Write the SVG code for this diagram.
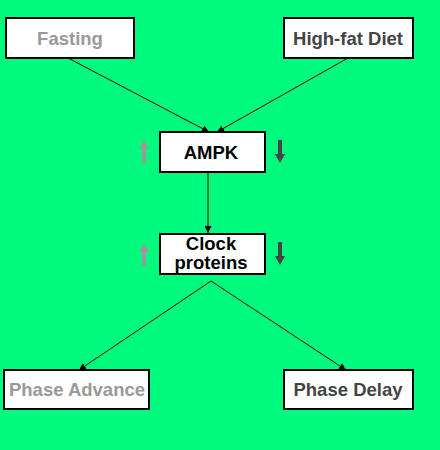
<svg xmlns="http://www.w3.org/2000/svg" width="440" height="450" viewBox="0 0 440 450">
<defs>
<marker id="ah" viewBox="0 0 10 10" refX="10" refY="5" markerWidth="7" markerHeight="7" orient="auto" markerUnits="userSpaceOnUse">
<path d="M0,0 L10,5 L0,10 z" fill="#000"/>
</marker>
<style>
.box{fill:#fff;stroke:#000;stroke-width:2}
.t{font-family:"Liberation Sans",Arial,sans-serif;font-weight:bold;font-size:18.5px;text-anchor:middle}
.edge{stroke:#3a0000;stroke-width:1;fill:none;marker-end:url(#ah)}
.up{fill:#999}
.down{fill:#444}
</style>
</defs>
<rect width="440" height="450" fill="#00fa7e"/>
<g id="connectors">
<line class="edge" x1="68" y1="58" x2="209" y2="132"/>
<line class="edge" x1="348" y1="58" x2="217" y2="132"/>
<line class="edge" x1="208" y1="172" x2="208" y2="233"/>
<line class="edge" x1="211" y1="281" x2="79" y2="370"/>
<line class="edge" x1="211" y1="281" x2="346" y2="370"/>
</g>
<g id="fasting">
<rect class="box" x="6" y="18" width="128" height="40"/>
<text class="t" x="70" y="45" fill="#999">Fasting</text>
</g>
<g id="highfat">
<rect class="box" x="284" y="18" width="129" height="40"/>
<text class="t" x="348" y="45" fill="#444">High-fat Diet</text>
</g>
<g id="ampk">
<rect class="box" x="160" y="132" width="105" height="40"/>
<text class="t" x="211" y="159" fill="#000">AMPK</text>
<path class="up" d="M144,140 L149,149 L146,149 L146,163 L142,163 L142,149 L139,149 z"/>
<path class="down" d="M280,163 L285,154 L282,154 L282,140 L278,140 L278,154 L275,154 z"/>
</g>
<g id="clock">
<rect class="box" x="160" y="234" width="105" height="40"/>
<text class="t" x="211" y="250" fill="#000">Clock</text>
<text class="t" x="211" y="269" fill="#000">proteins</text>
<path class="up" d="M144,243 L149,252 L146,252 L146,266 L142,266 L142,252 L139,252 z"/>
<path class="down" d="M280,265 L285,256 L282,256 L282,242 L278,242 L278,256 L275,256 z"/>
</g>
<g id="advance">
<rect class="box" x="4" y="370" width="145" height="39"/>
<text class="t" x="77" y="396" fill="#999">Phase Advance</text>
</g>
<g id="delay">
<rect class="box" x="284" y="370" width="129" height="39"/>
<text class="t" x="348" y="396" fill="#444">Phase Delay</text>
</g>
</svg>
